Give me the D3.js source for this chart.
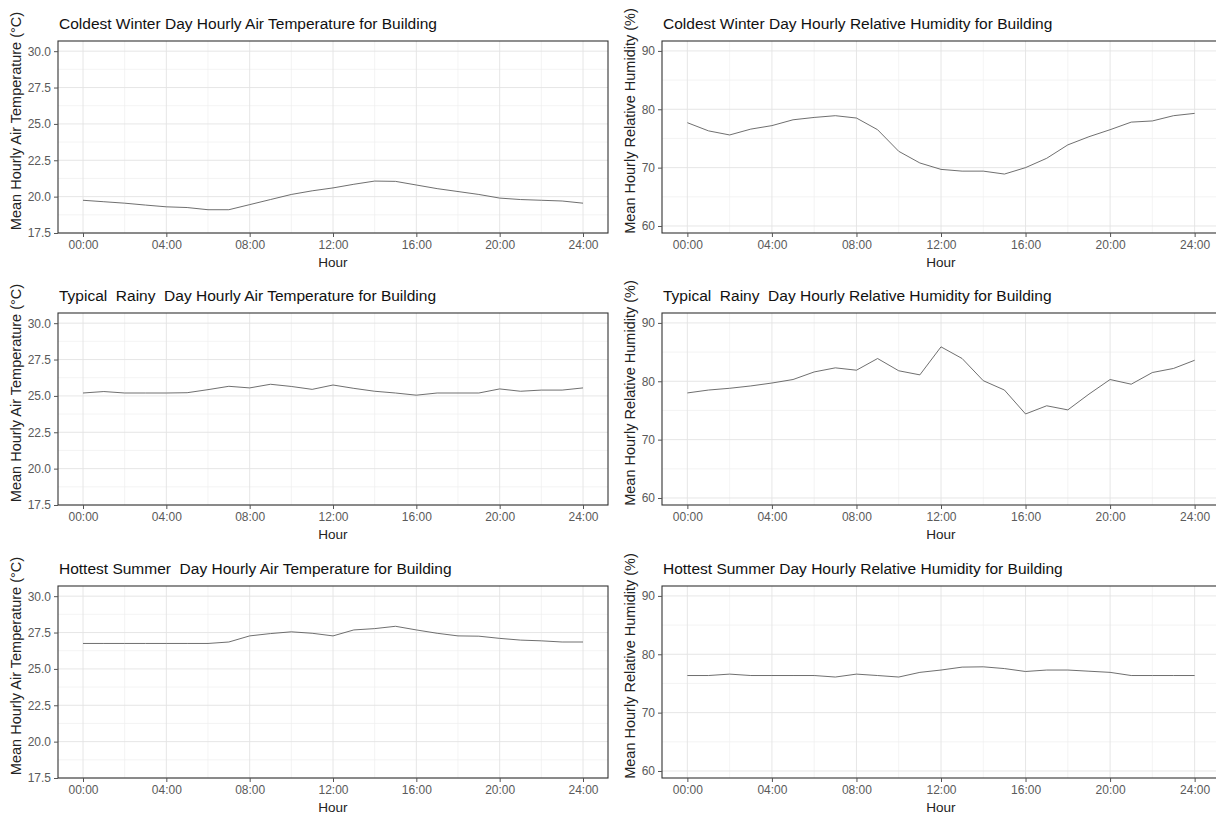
<!DOCTYPE html>
<html>
<head>
<meta charset="utf-8">
<script src="https://cdn.jsdelivr.net/npm/d3@7"></script>
<style>
  body { margin: 0; background: #fff; }
  svg { display: block; font-family: "Liberation Sans", Arial, sans-serif; }
  .grid-major { stroke: #e3e3e3; stroke-width: 0.9; }
  .grid-minor { stroke: #efefef; stroke-width: 0.7; }
  .axis text { fill: #5a5a5a; font-size: 12px; }
  .axis line { stroke: #555; }
  .axis path { display: none; }
</style>
</head>
<body>
<svg></svg>
<script>
/* X VALUES AND TICKS */
const hours = [0, 1, 2, 3, 4, 5, 6, 7, 8, 9, 10, 11, 12, 13, 14, 15, 16, 17, 18, 19, 20, 21, 22, 23, 24]
const hourTicks = [0, 4, 8, 12, 16, 20, 24]
const hourTickLabels = ['00:00', '04:00', '08:00', '12:00', '16:00', '20:00', '24:00']
const hourMinor = [2, 6, 10, 14, 18, 22]

/* Y TICKS */
const tempTicks = [17.5, 20.0, 22.5, 25.0, 27.5, 30.0]
const tempMinor = [18.75, 21.25, 23.75, 26.25, 28.75]
const humTicks = [60, 70, 80, 90]
const humMinor = [65, 75, 85]

/* SERIES */
const coldestTemp = [19.75, 19.65, 19.55, 19.42, 19.3, 19.25, 19.1, 19.1, 19.45, 19.8, 20.15, 20.4, 20.6, 20.85, 21.07, 21.05, 20.8, 20.55, 20.35, 20.15, 19.9, 19.8, 19.75, 19.7, 19.55]
const coldestHum = [77.7, 76.3, 75.6, 76.6, 77.2, 78.2, 78.6, 78.9, 78.5, 76.5, 72.8, 70.8, 69.7, 69.4, 69.4, 68.9, 70.0, 71.6, 73.9, 75.3, 76.5, 77.8, 78.0, 78.9, 79.3]
const rainyTemp = [25.2, 25.3, 25.2, 25.2, 25.2, 25.22, 25.43, 25.66, 25.55, 25.8, 25.65, 25.45, 25.75, 25.52, 25.32, 25.2, 25.05, 25.2, 25.2, 25.2, 25.48, 25.32, 25.4, 25.4, 25.55]
const rainyHum = [78.0, 78.5, 78.8, 79.2, 79.7, 80.3, 81.6, 82.3, 81.9, 83.9, 81.8, 81.1, 85.9, 83.9, 80.1, 78.5, 74.4, 75.8, 75.1, 77.8, 80.3, 79.5, 81.5, 82.2, 83.6]
const hottestTemp = [26.75, 26.75, 26.75, 26.75, 26.75, 26.75, 26.75, 26.85, 27.27, 27.43, 27.55, 27.45, 27.27, 27.68, 27.77, 27.93, 27.68, 27.45, 27.27, 27.25, 27.1, 26.98, 26.93, 26.85, 26.85]
const hottestHum = [76.36, 76.36, 76.6, 76.36, 76.36, 76.36, 76.36, 76.1, 76.6, 76.36, 76.1, 76.9, 77.3, 77.8, 77.85, 77.55, 77.05, 77.3, 77.3, 77.1, 76.9, 76.36, 76.36, 76.36, 76.36]

/* LABELS */
const titles = [
  'Coldest Winter Day Hourly Air Temperature for Building',
  'Coldest Winter Day Hourly Relative Humidity for Building',
  'Typical  Rainy  Day Hourly Air Temperature for Building',
  'Typical  Rainy  Day Hourly Relative Humidity for Building',
  'Hottest Summer  Day Hourly Air Temperature for Building',
  'Hottest Summer Day Hourly Relative Humidity for Building'
]
const tempLabel = 'Mean Hourly Air Temperature (\u00B0C)'
const humLabel = 'Mean Hourly Relative Humidity (%)'

const width = 1216, height = 818
const svg = d3.select('svg')
  .attr('width', width)
  .attr('height', height)

const cols = [{ x0: 58, x1: 608 }, { x0: 662, x1: 1220 }]
const rowTops = [41, 313, 586]
const panelH = 192

/* Y DOMAINS AS SEEN IN THE PLOT (TEMP HAS NO LOWER PAD) */
const tempDomain = [17.5, 30.7]
const humDomain = [58.8, 91.7]

const panels = [
  { row: 0, col: 0, values: coldestTemp, kind: 'temp' },
  { row: 0, col: 1, values: coldestHum, kind: 'hum' },
  { row: 1, col: 0, values: rainyTemp, kind: 'temp' },
  { row: 1, col: 1, values: rainyHum, kind: 'hum' },
  { row: 2, col: 0, values: hottestTemp, kind: 'temp' },
  { row: 2, col: 1, values: hottestHum, kind: 'hum' }
]

panels.forEach((p, i) => {
  const x0 = cols[p.col].x0, x1 = cols[p.col].x1
  const top = rowTops[p.row], bottom = top + panelH
  const isTemp = p.kind === 'temp'
  const yTicks = isTemp ? tempTicks : humTicks
  const yMinor = isTemp ? tempMinor : humMinor

  const xScale = d3.scaleLinear()
    .domain([-1.2, 25.2])
    .range([x0, x1])
  const yScale = d3.scaleLinear()
    .domain(isTemp ? tempDomain : humDomain)
    .range([bottom, top])

  const g = svg.append('g')

  /* GRID */
  g.selectAll('.ymin').data(yMinor).enter().append('line')
    .attr('class', 'grid-minor')
    .attr('x1', x0).attr('x2', x1)
    .attr('y1', d => yScale(d)).attr('y2', d => yScale(d))
  g.selectAll('.xmin').data(hourMinor).enter().append('line')
    .attr('class', 'grid-minor')
    .attr('y1', top).attr('y2', bottom)
    .attr('x1', d => xScale(d)).attr('x2', d => xScale(d))
  g.selectAll('.ymaj').data(yTicks).enter().append('line')
    .attr('class', 'grid-major')
    .attr('x1', x0).attr('x2', x1)
    .attr('y1', d => yScale(d)).attr('y2', d => yScale(d))
  g.selectAll('.xmaj').data(hourTicks).enter().append('line')
    .attr('class', 'grid-major')
    .attr('y1', top).attr('y2', bottom)
    .attr('x1', d => xScale(d)).attr('x2', d => xScale(d))

  /* LINE */
  const line = d3.line()
    .x((d, j) => xScale(hours[j]))
    .y(d => yScale(d))
  g.append('path')
    .datum(p.values)
    .attr('d', line)
    .attr('fill', 'none')
    .attr('stroke', '#555')
    .attr('stroke-width', 0.85)

  /* PANEL BORDER */
  g.append('rect')
    .attr('x', x0).attr('y', top)
    .attr('width', x1 - x0).attr('height', panelH)
    .attr('fill', 'none')
    .attr('stroke', '#333')
    .attr('stroke-width', 1.1)

  /* AXES */
  const yAxis = d3.axisLeft(yScale)
    .tickValues(yTicks)
    .tickSize(4)
    .tickPadding(3)
    .tickFormat(isTemp ? d3.format('.1f') : d3.format('d'))
  g.append('g')
    .attr('class', 'axis y')
    .attr('transform', `translate(${x0}, 0)`)
    .call(yAxis)

  const xAxis = d3.axisBottom(xScale)
    .tickValues(hourTicks)
    .tickSize(4)
    .tickPadding(3)
    .tickFormat((d, j) => hourTickLabels[j])
  g.append('g')
    .attr('class', 'axis x')
    .attr('transform', `translate(0, ${bottom})`)
    .call(xAxis)

  /* TITLES */
  g.append('text')
    .attr('x', x0 + 1)
    .attr('y', top - 12)
    .attr('font-size', 15.5)
    .attr('fill', '#111')
    .style('white-space', 'pre')
    .text(titles[i])

  g.append('text')
    .attr('x', (x0 + x1) / 2)
    .attr('y', bottom + 34)
    .attr('text-anchor', 'middle')
    .attr('font-size', 13.5)
    .attr('fill', '#222')
    .text('Hour')

  const labelX = p.col === 0 ? 21 : 635
  const labelY = (top + bottom) / 2 - 16
  g.append('text')
    .attr('transform', `translate(${labelX}, ${labelY}) rotate(-90)`)
    .attr('text-anchor', 'middle')
    .attr('font-size', 14.5)
    .attr('fill', '#222')
    .text(isTemp ? tempLabel : humLabel)
})
</script>
</body>
</html>
